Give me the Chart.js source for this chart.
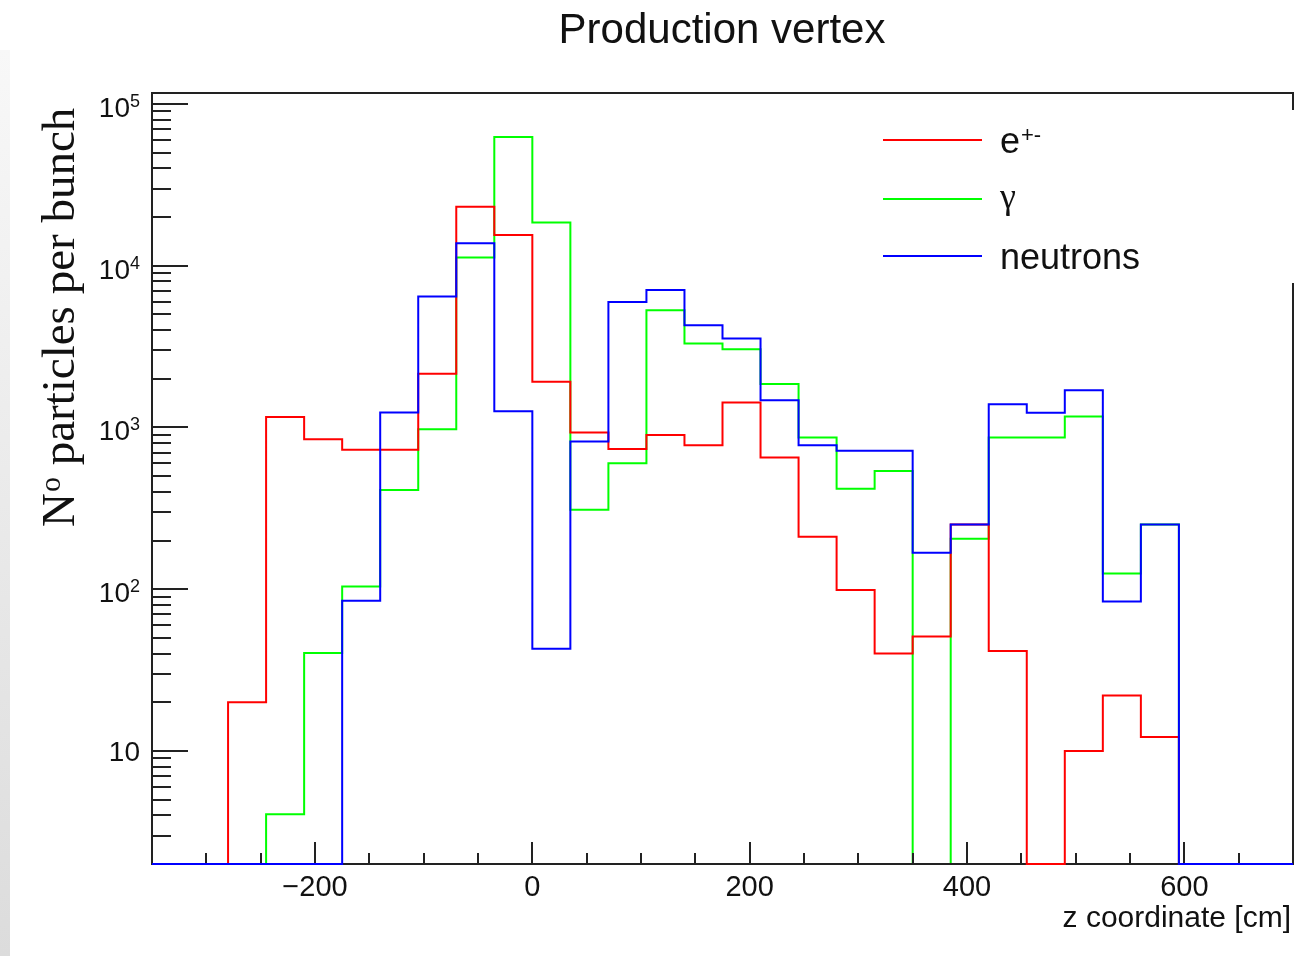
<!DOCTYPE html>
<html lang="en">
<head>
<meta charset="UTF-8">
<title>Production vertex</title>
<script src="https://cdn.jsdelivr.net/npm/chart.js"></script>
<style>
    body { margin: 0; background: #fff; }
    #wrap { position: relative; width: 1301px; height: 956px; overflow: hidden; }
    #edge {
        position: absolute; left: 0; top: 50px; width: 10px; height: 906px;
        background: linear-gradient(to bottom, #f8f8f8, #dcdcdc);
    }
    canvas { position: absolute; left: 0; top: 0; }
</style>
</head>
<body>

<div id="wrap">
    <div id="edge"></div>
    <canvas id="vertex" width="1301" height="956"></canvas>
</div>

<script>
    // z bin edges [cm]: 30 bins of 35 cm
    const binEdges = [-350, -315, -280, -245, -210, -175, -140, -105, -70, -35, 0,
                      35, 70, 105, 140, 175, 210, 245, 280, 315, 350,
                      385, 420, 455, 490, 525, 560, 595, 630, 665, 700];

    // particles per bunch in each bin
    const electrons = [0, 0, 20, 1160, 845, 728, 728, 2150, 23200, 15500,
                       1915, 930, 735, 900, 777, 1427, 653, 211, 99, 40,
                       51, 251.5, 41.5, 0, 10, 22, 12.2, 0, 0, 0];
    const gammas    = [0, 0, 0, 4.06, 40.4, 104, 410, 976, 11240, 62500,
                       18500, 310, 602, 5310, 3310, 3048, 1856, 867, 418, 538,
                       0, 205, 867, 867, 1170, 125, 251.5, 0, 0, 0];
    const neutrons  = [0, 0, 0, 0, 0, 85, 1240, 6460, 13780, 1260,
                       42.8, 819, 5975, 7085, 4288, 3545, 1475, 777, 717, 717,
                       168, 251.5, 1393, 1233, 1700, 84, 251.5, 0, 0, 0];

    const seriesNames  = ['e', 'γ', 'neutrons'];
    const seriesColors = ['#ff0000', '#00ff00', '#0000ff'];

    const xMajorTicks = [-200, 0, 200, 400, 600];
    const xMinorStep = 50;
    const yDecades = [1, 2, 3, 4, 5];   // labelled powers of ten
    const Y_MIN = 2;
    const Y_MAX = 1.17e5;

    const SANS = '"Liberation Sans", Arial, Helvetica, sans-serif';
    const SERIF = '"Liberation Serif", "Times New Roman", serif';

    // empty bins sit on the bottom of the frame, like ROOT does on a log axis
    function toSteps(values) {
        const pts = values.map((v, i) => ({ x: binEdges[i], y: v > 0 ? v : Y_MIN }));
        const last = values[values.length - 1];
        pts.push({ x: binEdges[binEdges.length - 1], y: last > 0 ? last : Y_MIN });
        return pts;
    }

    function histDataset(label, values, color, order) {
        return {
            label: label,
            data: toSteps(values),
            borderColor: color,
            borderWidth: 2,
            stepped: 'before',
            pointRadius: 0,
            fill: false,
            tension: 0,
            order: order,
            clip: 4
        };
    }

    function fmtTick(v) {
        return v < 0 ? '\u2212' + (-v) : String(v);
    }

    function drawFrame(chart) {
        const { ctx, chartArea: a, scales: { x, y } } = chart;
        ctx.save();
        ctx.strokeStyle = '#222';
        ctx.lineWidth = 2;
        ctx.strokeRect(a.left, a.top, a.right - a.left, a.bottom - a.top);

        ctx.beginPath();
        for (let v = x.min + xMinorStep; v < x.max; v += xMinorStep) {
            const px = Math.round(x.getPixelForValue(v));
            const len = xMajorTicks.includes(v) ? 22 : 11;
            ctx.moveTo(px, a.bottom);
            ctx.lineTo(px, a.bottom - len);
        }
        for (let e = 0; e <= 5; e++) {
            for (let m = 1; m <= 9; m++) {
                const v = m * Math.pow(10, e);
                if (v < Y_MIN || v > Y_MAX) continue;
                const py = Math.round(y.getPixelForValue(v));
                const len = m === 1 ? 36 : 19;
                ctx.moveTo(a.left, py);
                ctx.lineTo(a.left + len, py);
            }
        }
        ctx.stroke();
        ctx.restore();
    }

    // the gamma histogram goes down first, then the axes, then the others on top
    const frameAxes = {
        id: 'frameAxes',
        afterDatasetDraw(chart, args) {
            if (args.index === 1) drawFrame(chart);
        },
        afterDraw(chart) {
            const { ctx, scales: { x, y } } = chart;
            ctx.save();
            ctx.fillStyle = '#111';

            // title
            ctx.font = '42px ' + SANS;
            ctx.textAlign = 'center';
            ctx.textBaseline = 'alphabetic';
            ctx.fillText('Production vertex', 722, 43);

            // x tick labels
            ctx.font = '29px ' + SANS;
            xMajorTicks.forEach(v => {
                ctx.fillText(fmtTick(v), x.getPixelForValue(v), 896);
            });

            // x axis title
            ctx.font = '30px ' + SANS;
            ctx.textAlign = 'right';
            ctx.fillText('z coordinate [cm]', 1291, 927);

            // y tick labels: 10, 10^2 ... 10^5
            const right = 140;
            yDecades.forEach(e => {
                const py = y.getPixelForValue(Math.pow(10, e));
                ctx.textAlign = 'right';
                if (e === 1) {
                    ctx.font = '28px ' + SANS;
                    ctx.fillText('10', right, py + 10);
                } else {
                    ctx.font = '18px ' + SANS;
                    const ew = ctx.measureText(String(e)).width;
                    ctx.fillText(String(e), right, py + 3);
                    ctx.font = '28px ' + SANS;
                    ctx.fillText('10', right - ew, py + 13);
                }
            });

            // y axis title, rotated, with a raised "o"
            ctx.translate(74, 527);
            ctx.rotate(-Math.PI / 2);
            ctx.textAlign = 'left';
            ctx.font = '47px ' + SERIF;
            ctx.fillText('N', 0, 0);
            let cx = ctx.measureText('N').width + 1;
            ctx.font = '30px ' + SERIF;
            ctx.fillText('o', cx, -14);
            cx += ctx.measureText('o').width;
            ctx.font = '47px ' + SERIF;
            ctx.fillText(' particles per bunch', cx, 0);
            ctx.restore();

            // legend box (white, no border) over the right side of the frame
            ctx.save();
            ctx.fillStyle = '#fff';
            ctx.fillRect(862, 110, 440, 173);
            const rows = [140, 199, 256];
            rows.forEach((ly, i) => {
                ctx.strokeStyle = seriesColors[i];
                ctx.lineWidth = 2;
                ctx.beginPath();
                ctx.moveTo(883, ly);
                ctx.lineTo(982, ly);
                ctx.stroke();
            });
            ctx.fillStyle = '#111';
            ctx.textAlign = 'left';
            ctx.textBaseline = 'alphabetic';
            ctx.font = '36px ' + SANS;
            ctx.fillText(seriesNames[0], 1000, 153);
            const ew = ctx.measureText(seriesNames[0]).width;
            ctx.font = '22px ' + SANS;
            ctx.fillText('+-', 1000 + ew + 1, 142);
            ctx.font = '36px ' + SERIF;
            ctx.fillText(seriesNames[1], 1000, 208);
            ctx.font = '36px ' + SANS;
            ctx.fillText(seriesNames[2], 1000, 269);
            ctx.restore();
        }
    };

    window.onload = () => {
        const ctx = document.getElementById('vertex').getContext('2d');
        new Chart(ctx, {
            type: 'line',
            data: {
                datasets: [
                    histDataset('e+-', electrons, seriesColors[0], 1),
                    histDataset('gamma', gammas, seriesColors[1], 2),
                    histDataset('neutrons', neutrons, seriesColors[2], 0)
                ]
            },
            options: {
                responsive: false,
                animation: false,
                devicePixelRatio: 1,
                events: [],
                layout: { padding: { left: 152, top: 93, right: 8, bottom: 92 } },
                plugins: {
                    legend: { display: false },
                    tooltip: { enabled: false },
                    title: { display: false }
                },
                scales: {
                    x: { type: 'linear', min: -350, max: 700, display: false },
                    y: { type: 'logarithmic', min: Y_MIN, max: Y_MAX, display: false }
                }
            },
            plugins: [frameAxes]
        });
    };
</script>

</body>
</html>
